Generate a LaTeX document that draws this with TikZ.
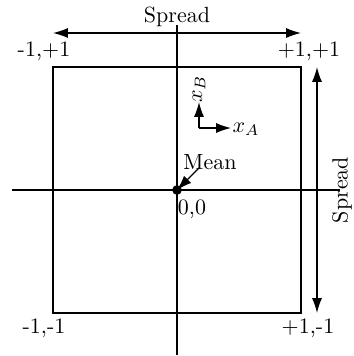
\documentclass[tikz,border=0pt]{standalone}
\usetikzlibrary{arrows.meta}
\begin{document}
\begin{tikzpicture}[x=0.455pt,y=-0.455pt,
  ln/.style={line width=0.6pt},
  arr/.style={ln,-{Latex[length=6.8pt,width=4.6pt]}},
  darr/.style={ln,{Latex[length=6.8pt,width=4.6pt]}-{Latex[length=6.8pt,width=4.6pt]}},
  lbl/.style={inner sep=0pt}]
\useasboundingbox (0,0) rectangle (354,356);
% square
\coordinate (tl) at (53,67);
\coordinate (br) at (301,313);
\draw[ln] (tl) rectangle (br);
% axes
\coordinate (hl) at (12,190);
\coordinate (hr) at (340,190);
\coordinate (vt) at (177,25);
\coordinate (vb) at (177,355);
\draw[ln] (hl) -- (hr);
\draw[ln] (vt) -- (vb);
% spread arrows
\coordinate (sa1) at (53,33);
\coordinate (sa2) at (301,33);
\draw[darr] (sa1) -- (sa2);
\node[lbl] (sp1) at (177,17) {Spread};
\coordinate (sb1) at (317,67);
\coordinate (sb2) at (317,313);
\draw[darr] (sb1) -- (sb2);
\node[lbl,rotate=90] (sp2) at (342,190) {Spread};
% corner labels
\node[lbl] (c1) at (44,51) {-1,+1};
\node[lbl] (c2) at (309,51) {+1,+1};
\node[lbl] (c3) at (44,328) {-1,-1};
\node[lbl] (c4) at (308,328) {+1,-1};
% local axes
\coordinate (o) at (199,128);
\coordinate (ya) at (199,102);
\coordinate (xa) at (231,128);
\draw[arr] (o) -- (ya);
\draw[arr] (o) -- (xa);
\node[lbl,rotate=90] (xb) at (199,89) {$x_B$};
\node[lbl] (xal) at (246,129) {$x_A$};
% mean
\node[circle,fill,inner sep=0pt,minimum size=4.4pt] (m) at (177,190) {};
\node[lbl] (mean) at (210,162) {Mean};
\coordinate (mstart) at (199,168);
\draw[arr] (mstart) -- (m.center);
\node[lbl] (zero) at (192,209) {0,0};
\end{tikzpicture}
\end{document}
